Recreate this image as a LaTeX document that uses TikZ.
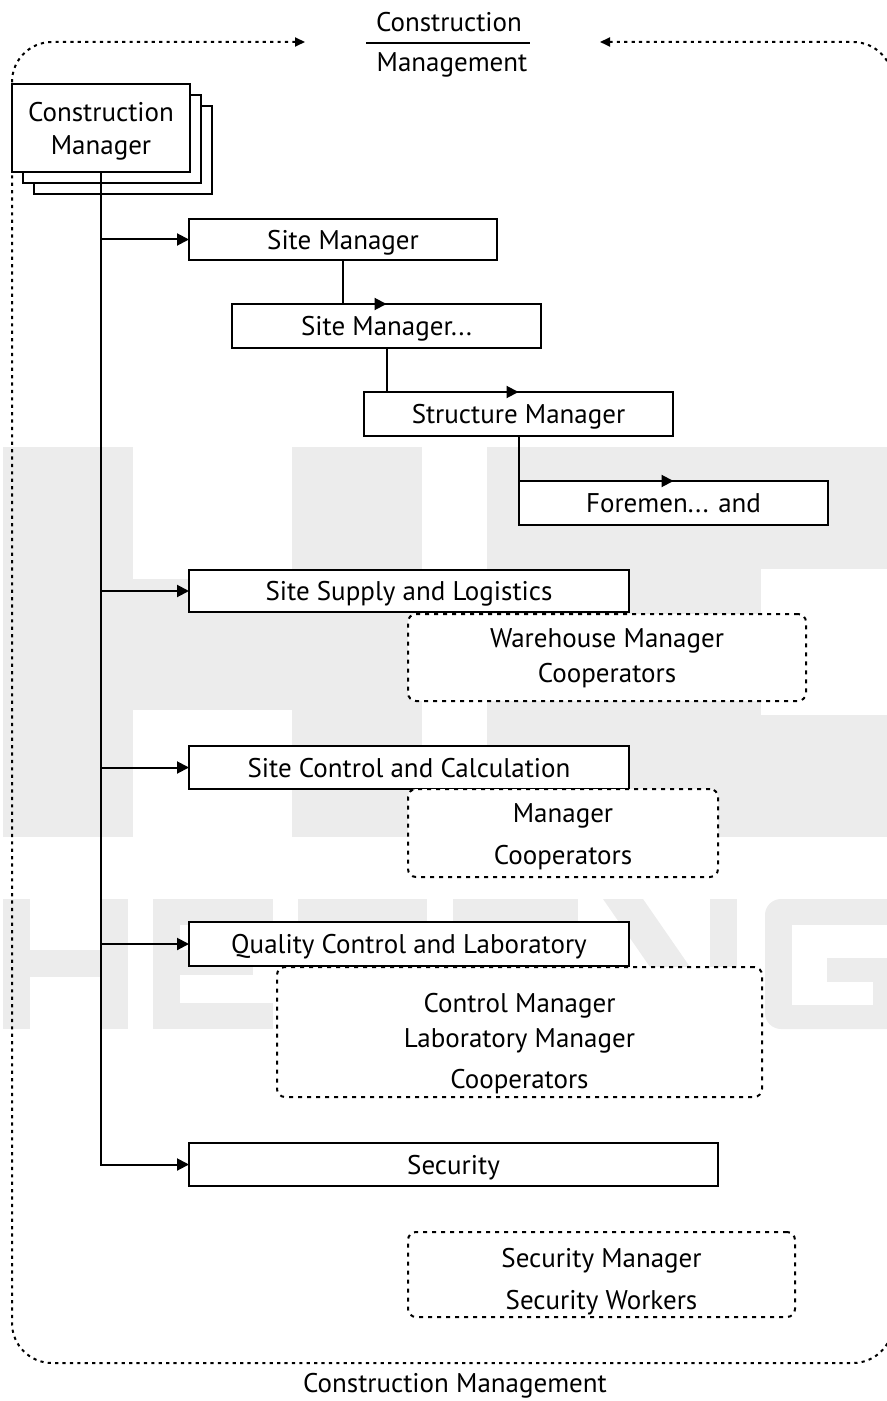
\documentclass[tikz,border=0pt]{standalone}
\usepackage{fontspec}
\setmainfont{PT Sans}
\usetikzlibrary{arrows.meta}
\definecolor{wmark}{RGB}{236,236,236}
\begin{document}
\begin{tikzpicture}[x=0.5pt,y=-0.5pt,
  font=\fontsize{13.5}{16}\selectfont,
  every node/.style={inner sep=0pt, outer sep=0pt, text depth=0pt},
  box/.style={draw, line width=1pt, fill=white},
  dotbox/.style={draw, fill=white, line width=1pt, rounded corners=4pt, dash pattern=on 2pt off 2.5pt},
  link/.style={line width=1pt},
  arr/.style={link, -{Triangle[length=6pt,width=6pt]}},
  frame/.style={line width=1pt, dash pattern=on 1.6pt off 2.1pt, rounded corners=20pt},
  lines/.style={align=center}]
\useasboundingbox (0,0) rectangle (887,1401);

% background lettering
\begin{scope}[wmark]
  % large row
  \fill (3,447) rectangle (133,837);
  \fill (292,447) rectangle (422,837);
  \fill (133,579) rectangle (292,710);
  \fill (487,447) rectangle (887,569);
  \fill (487,569) rectangle (761,715);
  \fill (487,715) rectangle (887,837);
  % small row
  \fill (3,899) rectangle (30,1029);
  \fill (100,899) rectangle (128,1029);
  \fill (30,950) rectangle (100,977);
  \fill (153,899) rectangle (180,1029);
  \fill (153,899) rectangle (273,925);
  \fill (180,950) rectangle (253,975);
  \fill (153,1003) rectangle (273,1029);
  \fill (298,899) rectangle (427,1029);
  \fill (453,899) rectangle (578,1029);
  \fill (603,899) -- (643,899) -- (690,967) -- (650,967) -- cycle;
  \fill (710,899) rectangle (737,1029);
  \fill[rounded corners=8pt] (887,899) -- (765,899) -- (765,1029) -- (887,1029);
  \fill[white] (792,925) rectangle (887,958);
  \fill[white] (792,958) rectangle (827,982);
  \fill[white] (792,982) rectangle (873,1005);
\end{scope}

% outer frame with the title in its gap
\coordinate (fl) at (305,42);
\coordinate (fr) at (600,42);
\draw[frame, {Triangle[length=5pt,width=4.5pt]}-{Triangle[length=5pt,width=4.5pt]}]
  (fl) -- (12,42) -- (12,1363) -- (893,1363) -- (893,42) -- (fr);
\node (t1) at (449,22) {Construction};
\node (t2) at (452,62) {Management};
\coordinate (ta) at (366,43);
\coordinate (tb) at (530,43);
\draw[link] (ta) -- (tb);
\node (foot) at (455,1383) {Construction Management};

% stacked manager box
\node[box, minimum width=89pt, minimum height=44pt] (cm3) at (123,150) {};
\node[box, minimum width=89pt, minimum height=44pt] (cm2) at (112,139) {};
\node[box, lines, minimum width=89pt, minimum height=44pt,
      font=\fontsize{13.5}{16.5}\selectfont] (cm) at (101,128) {Construction\\Manager};

% departments
\node[box, minimum width=154pt, minimum height=20.5pt] (sm) at (343,239.5) {Site Manager};
\node[box, minimum width=154.5pt, minimum height=22pt] (sm2) at (386.5,326) {Site Manager...};
\node[box, minimum width=154.5pt, minimum height=22pt] (str) at (518.5,414) {Structure Manager};
\node[box, minimum width=154.5pt, minimum height=22pt] (fore) at (673.5,503) {Foremen... and};
\node[box, minimum width=220pt, minimum height=21pt] (sup) at (409,591) {Site Supply and Logistics};
\node[box, minimum width=220pt, minimum height=21.5pt] (ctl) at (409,767.5) {Site Control and Calculation};
\node[box, minimum width=220pt, minimum height=22pt] (qc) at (409,944) {Quality Control and Laboratory};
\node[box, minimum width=264.5pt, minimum height=21.5pt] (sec) at (453.5,1164.5) {Security};

% staff groups
\node[dotbox, minimum width=199pt, minimum height=43.5pt] (whb) at (607,657.5) {};
\node[lines, font=\fontsize{13.5}{17.5}\selectfont] (wht) at (607,655.5) {Warehouse Manager\\Cooperators};
\node[dotbox, minimum width=155pt, minimum height=44pt] (ccb) at (563,833) {};
\node[lines, font=\fontsize{13.5}{21}\selectfont] (cct) at (563,834) {Manager\\Cooperators};
\node[dotbox, minimum width=242.5pt, minimum height=65pt] (qlb) at (519.5,1032) {};
\node[lines, font=\fontsize{13.5}{17.5}\selectfont] (qlt) at (519.5,1041) {Control Manager\\Laboratory Manager\\[3pt]Cooperators};
\node[dotbox, minimum width=193.5pt, minimum height=42.5pt] (sdb) at (601.5,1274.5) {};
\node[lines, font=\fontsize{13.5}{21}\selectfont] (sdt) at (601.5,1279) {Security Manager\\Security Workers};

% reporting lines
\draw[arr] (cm.south) |- (sec.west);
\draw[arr] (cm.south |- sm.west) -- (sm.west);
\draw[arr] (cm.south |- sup.west) -- (sup.west);
\draw[arr] (cm.south |- ctl.west) -- (ctl.west);
\draw[arr] (cm.south |- qc.west) -- (qc.west);
\draw[arr] (sm.south) |- (sm2.north);
\draw[arr] (sm2.south) |- (str.north);
\draw[arr] (str.south) |- (fore.north);
\end{tikzpicture}
\end{document}
